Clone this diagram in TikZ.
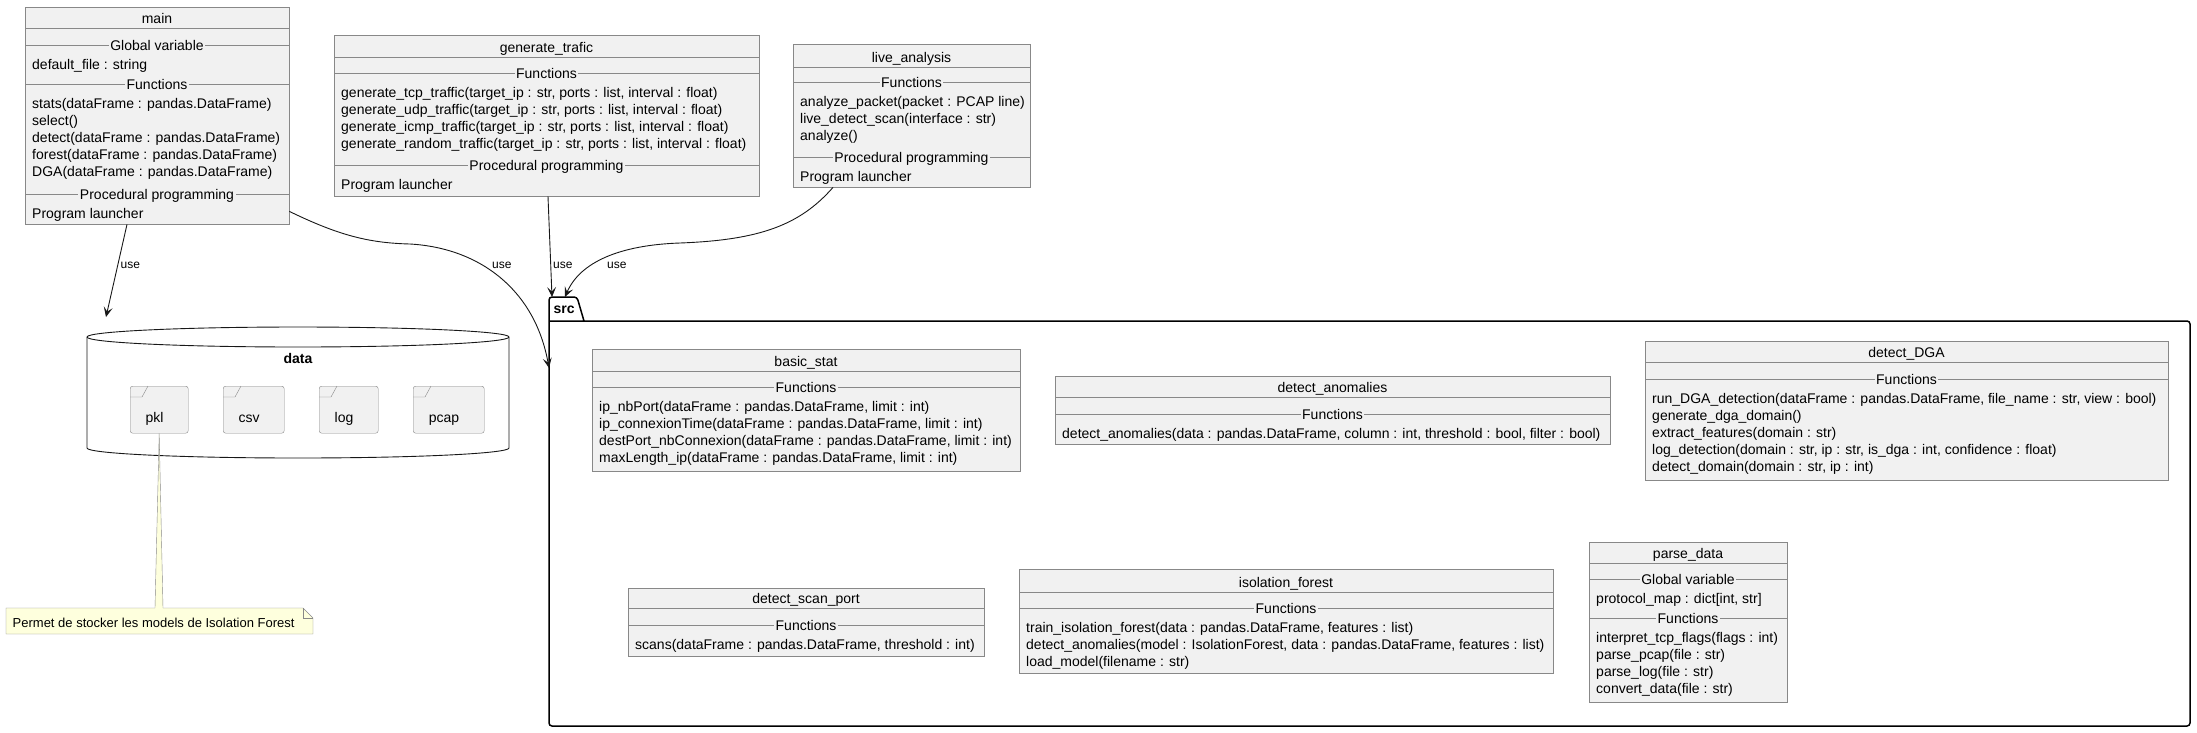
\documentclass[tikz,border=0pt]{standalone}
\usepackage{fontspec}
\setmainfont{Liberation Sans}
\usetikzlibrary{arrows.meta,calc}
\definecolor{umlfill}{HTML}{F1F1F1}
\definecolor{umlgray}{HTML}{888888}
\definecolor{umlline}{HTML}{181818}
\definecolor{notefill}{HTML}{FEFFDD}
\tikzset{every node/.style={font=\fontsize{14}{17}\selectfont, inner sep=0pt}}
\tikzset{classbox/.style={draw=umlgray, fill=umlfill, anchor=north west}}
\tikzset{divider/.style={draw=umlgray}}
\tikzset{section/.style={fill=umlfill, inner xsep=1.5pt, anchor=base}}
\tikzset{classname/.style={anchor=base}}
\tikzset{members/.style={anchor=north west, align=left}}
\tikzset{folder/.style={draw=umlgray, fill=umlfill, rounded corners=2.5pt, anchor=north west}}
\tikzset{folderlbl/.style={anchor=base}}
\tikzset{uses/.style={-{Stealth[length=10pt,width=9pt,inset=4.5pt]}, umlline, line width=0.9pt}}
\tikzset{uselabel/.style={font=\fontsize{12}{14}\selectfont, anchor=west}}
\tikzset{pkgline/.style={line width=1.5pt, black, rounded corners=3pt}}
\tikzset{dbline/.style={umlline, line width=0.9pt}}
\tikzset{notestyle/.style={draw=umlgray, fill=notefill}}
\tikzset{boldname/.style={font=\bfseries\fontsize{14}{17}\selectfont}}

\begin{document}
\begin{tikzpicture}[x=1pt, y=-1pt]
\useasboundingbox (0,0) rectangle (2197,732);

%main
\node[classbox, minimum width=264pt, minimum height=217pt] (main) at (25,7) {};
\node[classname] (maint) at (157,23) {main};
\draw[divider] (25,28) -- (289,28);
\draw[divider] (25,45) -- (289,45);
\node[section] (maing) at (157,50.4) {Global variable};
\node[members] (maingv) at (32,57.1) {\strut default\_file : string};
\draw[divider] (25,84) -- (289,84);
\node[section] (mainf) at (157,89.4) {Functions};
\node[members] (mainfun) at (32,96.1) {\strut stats(dataFrame : pandas.DataFrame)\\select()\\detect(dataFrame : pandas.DataFrame)\\forest(dataFrame : pandas.DataFrame)\\DGA(dataFrame : pandas.DataFrame)};
\draw[divider] (25,194) -- (289,194);
\node[section] (mainp) at (157,199.4) {Procedural programming};
\node[members] (mainpp) at (32,206.1) {\strut Program launcher};

%generate_trafic
\node[classbox, minimum width=425pt, minimum height=161pt] (gen) at (334,35) {};
\node[classname] (gent) at (546.5,52) {generate\_trafic};
\draw[divider] (334,57) -- (759,57);
\draw[divider] (334,73) -- (759,73);
\node[section] (genf) at (546.5,78.4) {Functions};
\node[members] (genfun) at (341,85.1) {\strut generate\_tcp\_traffic(target\_ip : str, ports : list, interval : float)\\generate\_udp\_traffic(target\_ip : str, ports : list, interval : float)\\generate\_icmp\_traffic(target\_ip : str, ports : list, interval : float)\\generate\_random\_traffic(target\_ip : str, ports : list, interval : float)};
\draw[divider] (334,165) -- (759,165);
\node[section] (genp) at (546.5,170.4) {Procedural programming};
\node[members] (genpp) at (341,177.1) {\strut Program launcher};

%live_analysis
\node[classbox, minimum width=237pt, minimum height=143pt] (live) at (793,44) {};
\node[classname] (livet) at (911.5,62) {live\_analysis};
\draw[divider] (793,67) -- (1030,67);
\draw[divider] (793,82) -- (1030,82);
\node[section] (livef) at (911.5,87.4) {Functions};
\node[members] (livefun) at (800,94.1) {\strut analyze\_packet(packet : PCAP line)\\live\_detect\_scan(interface : str)\\analyze()};
\draw[divider] (793,157) -- (1030,157);
\node[section] (livep) at (911.5,162.4) {Procedural programming};
\node[members] (livepp) at (800,169.1) {\strut Program launcher};

%data
\node[anchor=north west, minimum width=422pt, minimum height=131pt] (data) at (87,327) {};
\draw[dbline, fill=white] (87,337) -- (87,448) arc[start angle=180, end angle=360, x radius=211pt, y radius=10pt] -- (509,337) arc[start angle=0, end angle=180, x radius=211pt, y radius=10pt] -- cycle;
\draw[dbline] (87,337) arc[start angle=180, end angle=360, x radius=211pt, y radius=10pt];
\node[boldname, anchor=base] (datat) at (298,363) {data};
\node[folder, minimum width=58pt, minimum height=47pt] (fpkl) at (130,386) {};
\node[folder, minimum width=61pt, minimum height=47pt] (fcsv) at (223,386) {};
\node[folder, minimum width=59pt, minimum height=47pt] (flog) at (319,386) {};
\node[folder, minimum width=71pt, minimum height=47pt] (fpcap) at (413,386) {};
\foreach \f in {fpkl,fcsv,flog,fpcap}
  \draw[divider] ([yshift=-11pt]\f.north west) -- ++(12,0) -- ([xshift=18pt]\f.north west);
\node[folderlbl] (lpkl) at (154.5,422) {pkl};
\node[folderlbl] (lcsv) at (249,422) {csv};
\node[folderlbl] (llog) at (344,422) {log};
\node[folderlbl] (lpcap) at (444,422) {pcap};

%note
\node[anchor=north west, minimum width=307pt, minimum height=26pt] (note) at (6,608) {};
\draw[notestyle] (6,608) -- (303,608) -- (313,618) -- (313,634) -- (6,634) -- cycle;
\draw[divider] (303,608) -- (303,618) -- (313,618);
\fill[notefill] ([xshift=149pt]note.north west) -- (fpkl.south) -- ([xshift=157pt]note.north west) -- ++(0,1) -- ++(-8,0) -- cycle;
\draw[divider] ([xshift=149pt]note.north west) -- (fpkl.south) -- ([xshift=157pt]note.north west);
\node[anchor=base west, font=\fontsize{13}{15}\selectfont] (notet) at (12.5,627) {Permet de stocker les models de Isolation Forest};

%src
\node[anchor=north west, minimum width=1641pt, minimum height=429pt] (src) at (549,297) {};
\draw[pkgline] (584,321) -- (577,297) -- (549,297) -- (549,726) -- (2190,726) -- (2190,321) -- (549,321);
\node[boldname, anchor=base west] (srct) at (553.5,313) {src};

\node[classbox, minimum width=428pt, minimum height=122pt] (basic) at (592,349) {};
\node[classname] (basict) at (806,366) {basic\_stat};
\draw[divider] (592,371) -- (1020,371);
\draw[divider] (592,387) -- (1020,387);
\node[section] (basicf) at (806,392.4) {Functions};
\node[members] (basicfun) at (599,399.1) {\strut ip\_nbPort(dataFrame : pandas.DataFrame, limit : int)\\ip\_connexionTime(dataFrame : pandas.DataFrame, limit : int)\\destPort\_nbConnexion(dataFrame : pandas.DataFrame, limit : int)\\maxLength\_ip(dataFrame : pandas.DataFrame, limit : int)};

\node[classbox, minimum width=555pt, minimum height=68pt] (anom) at (1055,376) {};
\node[classname] (anomt) at (1332.5,392) {detect\_anomalies};
\draw[divider] (1055,397) -- (1610,397);
\draw[divider] (1055,414) -- (1610,414);
\node[section] (anomf) at (1332.5,419.4) {Functions};
\node[members] (anomfun) at (1062,426.1) {\strut detect\_anomalies(data : pandas.DataFrame, column : int, threshold : bool, filter : bool)};

\node[classbox, minimum width=523pt, minimum height=139pt] (dga) at (1645,341) {};
\node[classname] (dgat) at (1906.5,357) {detect\_DGA};
\draw[divider] (1645,362) -- (2168,362);
\draw[divider] (1645,379) -- (2168,379);
\node[section] (dgaf) at (1906.5,384.4) {Functions};
\node[members] (dgafun) at (1652,391.1) {\strut run\_DGA\_detection(dataFrame : pandas.DataFrame, file\_name : str, view : bool)\\generate\_dga\_domain()\\extract\_features(domain : str)\\log\_detection(domain : str, ip : str, is\_dga : int, confidence : float)\\detect\_domain(domain : str, ip : int)};

\node[classbox, minimum width=356pt, minimum height=68pt] (scan) at (628,588) {};
\node[classname] (scant) at (806,603) {detect\_scan\_port};
\draw[divider] (628,608) -- (984,608);
\draw[divider] (628,625) -- (984,625);
\node[section] (scanf) at (806,630.4) {Functions};
\node[members] (scanfun) at (635,637.1) {\strut scans(dataFrame : pandas.DataFrame, threshold : int)};

\node[classbox, minimum width=534pt, minimum height=104pt] (iso) at (1019,569) {};
\node[classname] (isot) at (1286,587) {isolation\_forest};
\draw[divider] (1019,592) -- (1553,592);
\draw[divider] (1019,608) -- (1553,608);
\node[section] (isof) at (1286,613.4) {Functions};
\node[members] (isofun) at (1026,620.1) {\strut train\_isolation\_forest(data : pandas.DataFrame, features : list)\\detect\_anomalies(model : IsolationForest, data : pandas.DataFrame, features : list)\\load\_model(filename : str)};

\node[classbox, minimum width=198pt, minimum height=160pt] (parse) at (1589,542) {};
\node[classname] (parset) at (1688,558) {parse\_data};
\draw[divider] (1589,563) -- (1787,563);
\draw[divider] (1589,579) -- (1787,579);
\node[section] (parseg) at (1688,584.4) {Global variable};
\node[members] (parsegv) at (1596,591.1) {\strut protocol\_map : dict[int, str]};
\draw[divider] (1589,618) -- (1787,618);
\node[section] (parsef) at (1688,623.4) {Functions};
\node[members] (parsefun) at (1596,630.1) {\strut interpret\_tcp\_flags(flags : int)\\parse\_pcap(file : str)\\parse\_log(file : str)\\convert\_data(file : str)};

%use arcs
\draw[uses] ([xshift=102pt]main.south west) -- ([xshift=19pt,yshift=10pt]data.north west);
\draw[uses] ([yshift=13pt]main.south east) .. controls (340,236) and (370,243) .. (410,244) .. controls (480,248) and (535,290) .. ([yshift=-71pt]src.north west);
\draw[uses] ([xshift=214pt]gen.south west) -- ([xshift=3pt]src.north west);
\draw[uses] ([xshift=40pt]live.south west) .. controls (800,225) and (760,240) .. (680,243) .. controls (620,245) and (580,262) .. ([xshift=16pt]src.north west);
\node[uselabel] (use1) at (120.5,265) {use};
\node[uselabel] (use2) at (492,265) {use};
\node[uselabel] (use3) at (553,265) {use};
\node[uselabel] (use4) at (607,265) {use};

\end{tikzpicture}
\end{document}
